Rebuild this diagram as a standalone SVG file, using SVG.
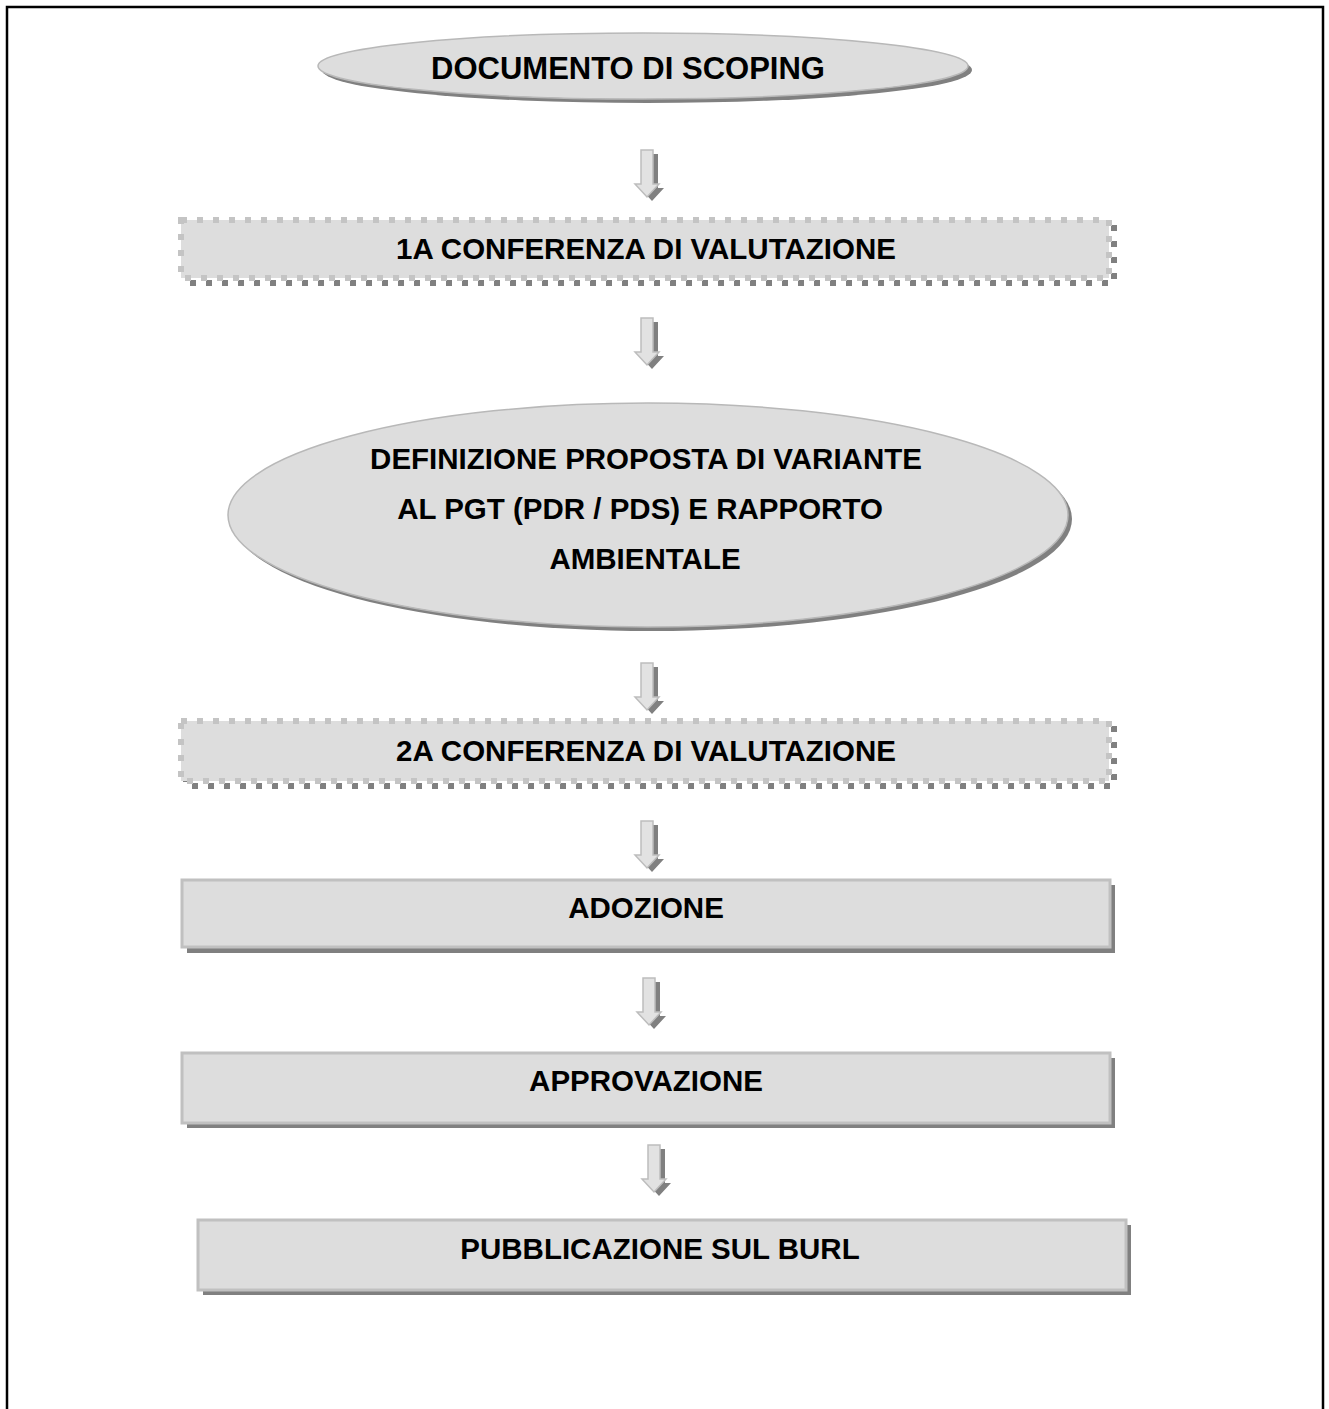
<svg xmlns="http://www.w3.org/2000/svg" width="1329" height="1409" viewBox="0 0 1329 1409">
<style>
.t{font-family:"Liberation Sans",Arial,sans-serif;font-weight:bold;font-size:29.5px;fill:#000;text-anchor:middle;dominant-baseline:central}
.sh{fill:#808080}
.el{fill:#dddddd;stroke:#b8b8b8;stroke-width:1.5}
.box{fill:#dddddd;stroke:#c0c0c0;stroke-width:3}
.dbox{fill:#dddddd;stroke:#c4c4c4;stroke-width:6;stroke-dasharray:6 10}
.dsh{fill:none;stroke:#808080;stroke-width:6;stroke-dasharray:6 10}
.arr{fill:#e2e2e2;stroke:#bdbdbd;stroke-width:1.5}
</style>
<defs>
<path id="ash" class="sh" d="M-6,0 H6 V34 H12 L0,47 L-12,34 H-6 Z"/>
<g id="arrow">
<use href="#ash" x="5" y="4"/>
<path class="arr" d="M-6,0 H6 V34 H12 L0,47 L-12,34 H-6 Z"/>
</g>
</defs>
<path d="M7,1409 V7 H1323 V1409" fill="none" stroke="#000" stroke-width="2.5"/>

<g id="connectors">
<use href="#arrow" x="647" y="150"/>
<use href="#arrow" x="647" y="318"/>
<use href="#arrow" x="647" y="663"/>
<use href="#arrow" x="647" y="821"/>
<use href="#arrow" x="649" y="978"/>
<use href="#arrow" x="654" y="1145"/>
</g>

<g id="n1">
<ellipse class="sh" cx="647" cy="70" rx="325" ry="33"/>
<ellipse class="el" cx="643" cy="66" rx="325" ry="33"/>
<text class="t" x="628" y="68" style="font-size:31px">DOCUMENTO DI SCOPING</text>
</g>

<g id="n2">
<rect class="dsh" x="186" y="225" width="928" height="58"/>
<rect class="dbox" x="181" y="220" width="928" height="58"/>
<text class="t" x="646" y="248">1A CONFERENZA DI VALUTAZIONE</text>
</g>

<g id="n3">
<ellipse class="sh" cx="652" cy="519" rx="420" ry="112"/>
<ellipse class="el" cx="648" cy="515" rx="420" ry="112"/>
<text class="t" x="646" y="458">DEFINIZIONE PROPOSTA DI VARIANTE</text>
<text class="t" x="640" y="508">AL PGT (PDR / PDS) E RAPPORTO</text>
<text class="t" x="645" y="558">AMBIENTALE</text>
</g>

<g id="n4">
<rect class="dsh" x="186" y="726" width="928" height="60"/>
<rect class="dbox" x="181" y="721" width="928" height="60"/>
<text class="t" x="646" y="750">2A CONFERENZA DI VALUTAZIONE</text>
</g>

<g id="n5">
<rect class="sh" x="187" y="885" width="928" height="68"/>
<rect class="box" x="182" y="880" width="928" height="67"/>
<text class="t" x="646" y="907">ADOZIONE</text>
</g>

<g id="n6">
<rect class="sh" x="187" y="1058" width="928" height="70"/>
<rect class="box" x="182" y="1053" width="928" height="70"/>
<text class="t" x="646" y="1080">APPROVAZIONE</text>
</g>

<g id="n7">
<rect class="sh" x="203" y="1225" width="928" height="70"/>
<rect class="box" x="198" y="1220" width="928" height="70"/>
<text class="t" x="660" y="1248">PUBBLICAZIONE SUL BURL</text>
</g>
</svg>
